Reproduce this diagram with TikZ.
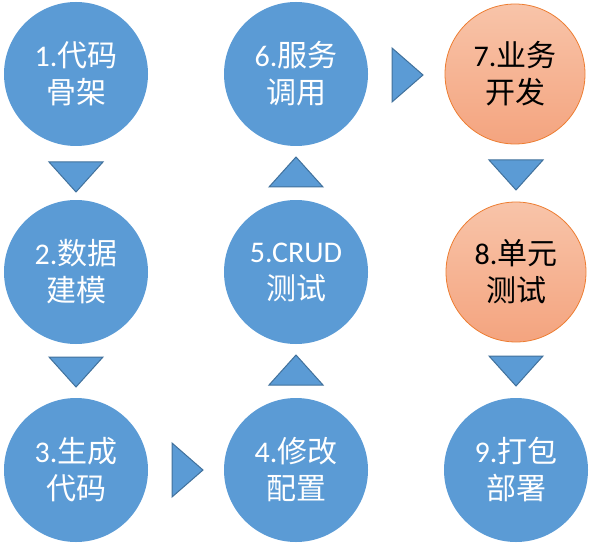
\documentclass[tikz,border=0pt]{standalone}
\usepackage{fontspec}
\setmainfont{Carlito}
\newfontfamily\cjk{Noto Sans CJK SC}
\definecolor{cblue}{HTML}{5B9BD5}
\definecolor{tborder}{HTML}{41719C}
\definecolor{otop}{HTML}{F8C4A9}
\definecolor{obot}{HTML}{F4A47F}
\definecolor{oline}{HTML}{ED7D31}
\newcommand{\lbl}[2]{#1{\cjk #2}}
\begin{document}
\begin{tikzpicture}[x=1pt,y=-1pt,
  bluec/.style={circle,fill=cblue,draw=none,minimum size=144pt,inner sep=0pt,text=white,font=\fontsize{30}{37}\selectfont,align=center},
  orangec/.style={circle,top color=otop,bottom color=obot,draw=oline,line width=0.8pt,minimum size=140pt,inner sep=0pt,text=black,font=\fontsize{30}{37}\selectfont,align=center},
  tri/.style={fill=cblue,draw=tborder,line width=1pt,line join=miter}]
\useasboundingbox (0,0) rectangle (593,545);
\node[bluec] (c1) at (76,74) {\lbl{1.}{代码}\\{\cjk 骨架}};
\node[bluec] (c2) at (76,272) {\lbl{2.}{数据}\\{\cjk 建模}};
\node[bluec] (c3) at (76,470) {\lbl{3.}{生成}\\{\cjk 代码}};
\node[bluec] (c4) at (296,470) {\lbl{4.}{修改}\\{\cjk 配置}};
\node[bluec] (c5) at (296,272) {5.CRUD\\{\cjk 测试}};
\node[bluec] (c6) at (296,74) {\lbl{6.}{服务}\\{\cjk 调用}};
\node[orangec] (c7) at (515,74) {\lbl{7.}{业务}\\{\cjk 开发}};
\node[orangec] (c8) at (516,272) {\lbl{8.}{单元}\\{\cjk 测试}};
\node[bluec] (c9) at (516,470) {\lbl{9.}{打包}\\{\cjk 部署}};
% down triangles
\draw[tri] (49,162) -- (103,162) -- (76,192) -- cycle;
\draw[tri] (49,357) -- (103,357) -- (76,387) -- cycle;
\draw[tri] (489,160) -- (543,160) -- (516,190) -- cycle;
\draw[tri] (489,356) -- (543,356) -- (516,386) -- cycle;
% up triangles
\draw[tri] (269,187) -- (323,187) -- (296,157) -- cycle;
\draw[tri] (269,385) -- (323,385) -- (296,355) -- cycle;
% right triangles
\draw[tri] (392,48) -- (392,102) -- (423,75) -- cycle;
\draw[tri] (172,443) -- (172,497) -- (203,470) -- cycle;
\end{tikzpicture}
\end{document}
